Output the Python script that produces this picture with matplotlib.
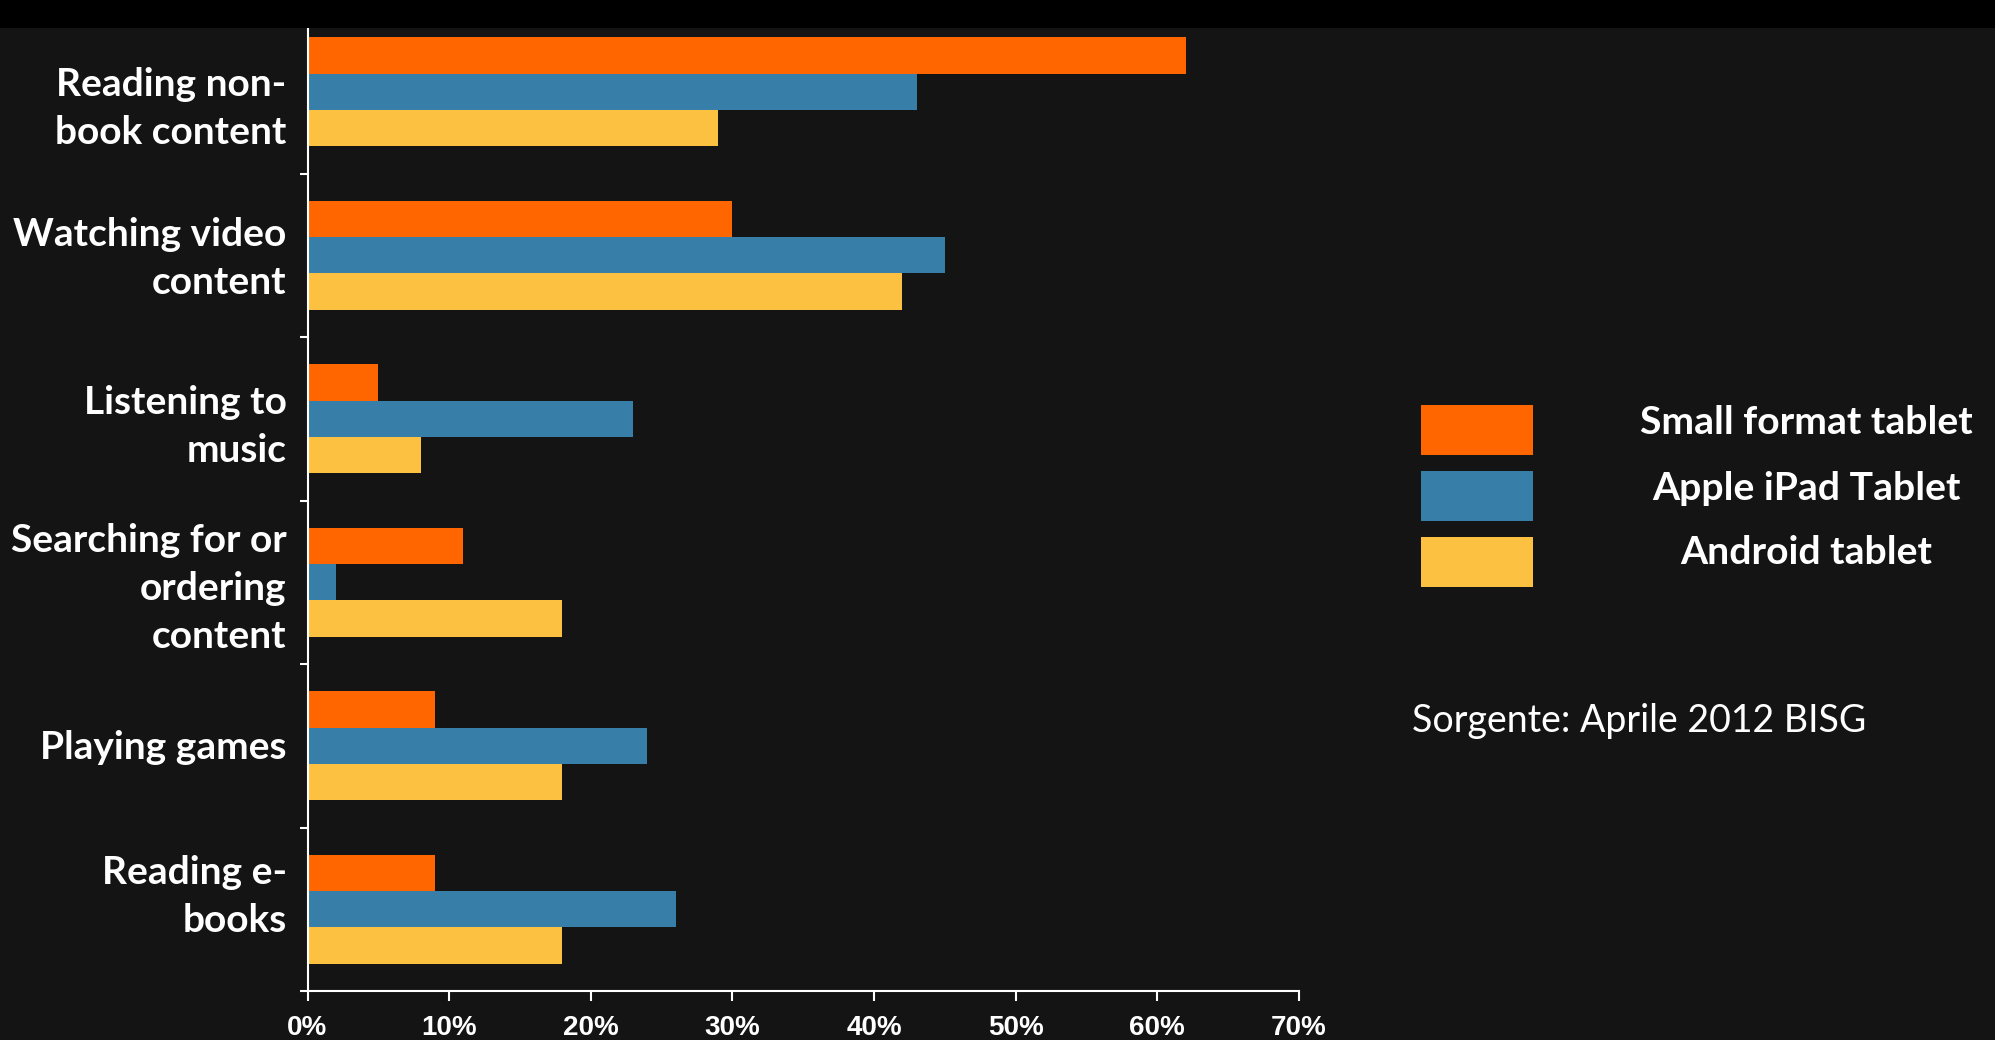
import matplotlib
matplotlib.use("Agg")
import matplotlib.pyplot as plt
import matplotlib.transforms as mtransforms
import numpy as np
from matplotlib.patches import Rectangle

categories = ["Reading non-\nbook content", "Watching video\ncontent", "Listening to\nmusic",
              "Searching for or\nordering\ncontent", "Playing games", "Reading e-\nbooks"]
series_names = ["Small format tablet", "Apple iPad Tablet", "Android tablet"]
small_format = [62, 30, 5, 11, 9, 9]
apple_ipad = [43, 45, 23, 2, 24, 26]
android = [29, 42, 8, 18, 18, 18]
x_ticks = [0, 10, 20, 30, 40, 50, 60, 70]
x_tick_labels = ["0%", "10%", "20%", "30%", "40%", "50%", "60%", "70%"]
source_text = "Sorgente: Aprile 2012 BISG"

colors = ["#FF6600", "#377EA9", "#FDC141"]
bg = "#141414"

W, H = 1995, 1040
fig = plt.figure(figsize=(W / 100, H / 100), dpi=100, facecolor=bg)
# black band at top
fig.patches.append(Rectangle((0, 1 - 28 / H), 1, 28 / H, transform=fig.transFigure,
                             facecolor="black", edgecolor="none", zorder=0))

ax = fig.add_axes([307.5 / W, 1 - 991 / H, (1299 - 307.5) / W, (991 - 10) / H])
ax.set_facecolor("none")

y = np.arange(len(categories))
h = 0.223
for i, (vals, c) in enumerate(zip([small_format, apple_ipad, android], colors)):
    ax.barh(y + (i - 1) * h, vals, height=h, color=c, edgecolor="none", label=series_names[i], zorder=2)

ax.set_xlim(0, 70)
ax.set_ylim(len(categories) - 0.5, -0.5)
ax.set_xticks(x_ticks)
ax.set_xticklabels(x_tick_labels, fontfamily="Liberation Sans", fontweight="bold", fontsize=20, color="white")
ax.set_yticks(y)
ax.set_yticklabels(categories, fontfamily="Lato", fontweight="bold", fontsize=28, color="white",
                   linespacing=1.45)
ax.set_yticks(np.arange(len(categories) + 1) - 0.5, minor=True)
ax.tick_params(axis="y", which="major", length=0, pad=15)
ax.tick_params(axis="y", which="minor", length=6, width=1.5, color="white")
ax.tick_params(axis="x", which="major", length=7, width=1.5, color="white", pad=10)

# small vertical offsets of the category labels (pixels, downward positive)
label_offsets = [7, -6, -2, -3, -1, -22]
for lab, off in zip(ax.get_yticklabels(), label_offsets):
    lab.set_transform(lab.get_transform() +
                      mtransforms.ScaledTranslation(0, -off / 100, fig.dpi_scale_trans))

for s in ["top", "right"]:
    ax.spines[s].set_visible(False)
for s in ["left", "bottom"]:
    ax.spines[s].set_color("white")
    ax.spines[s].set_linewidth(1.5)

# legend
patch_y = [405, 471, 537]
text_y = [422, 489, 552]
for name, c, py, ty in zip(series_names, colors, patch_y, text_y):
    fig.patches.append(Rectangle((1421 / W, 1 - (py + 50) / H), 112 / W, 50 / H,
                                 transform=fig.transFigure, facecolor=c, edgecolor="none"))
    fig.text(1806 / W, 1 - ty / H, name, ha="center", va="center", color="white",
             fontfamily="Lato", fontweight="bold", fontsize=28.2)

fig.text(1412 / W, 1 - 721 / H, source_text, ha="left", va="center", color="white",
         fontfamily="Lato", fontsize=27)

fig.savefig("out.png", dpi=100, facecolor=bg)
